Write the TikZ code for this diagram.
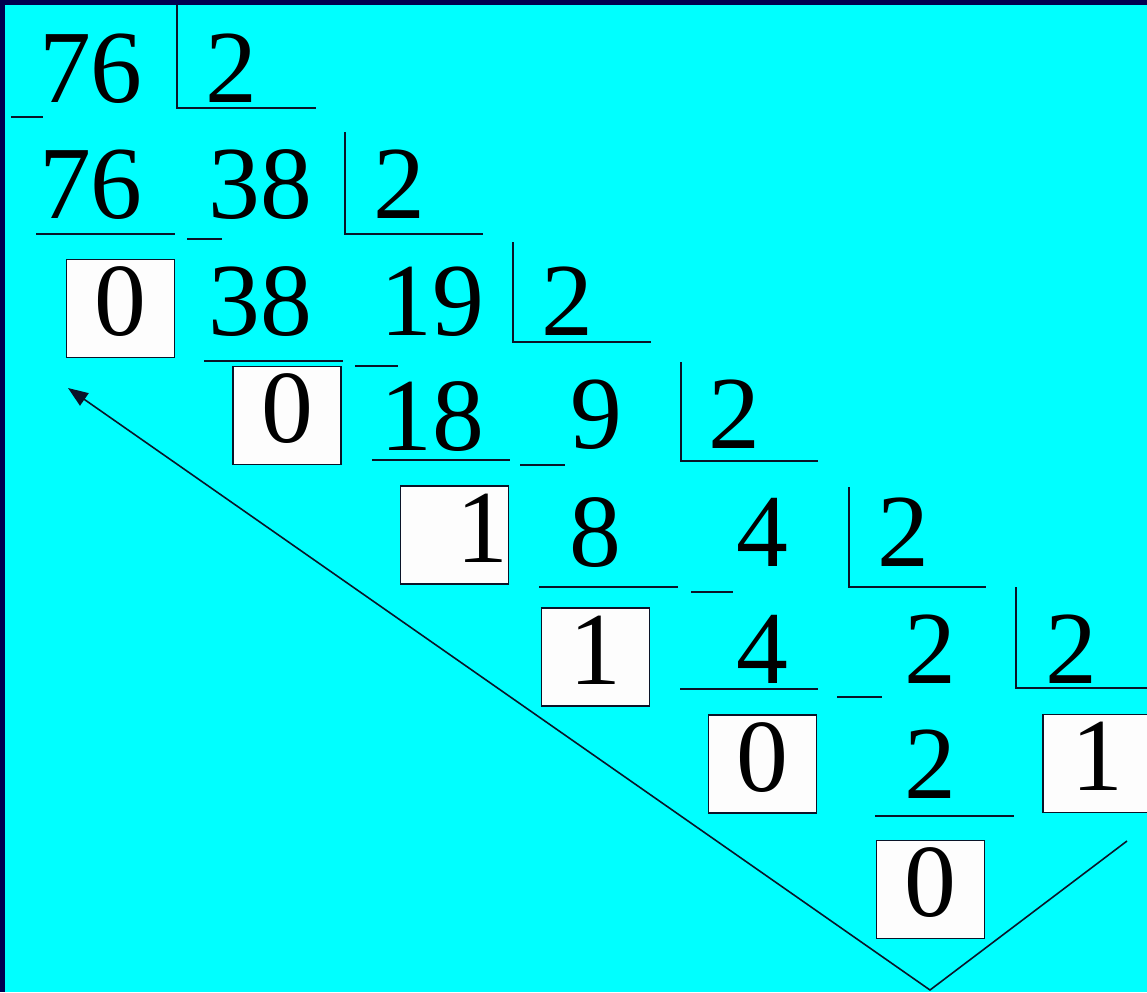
\documentclass[tikz,border=0pt]{standalone}
\usepackage{fontspec}
\setmainfont{Liberation Serif}
\usetikzlibrary{arrows.meta}
\definecolor{bg}{RGB}{0,255,255}
\definecolor{navy}{RGB}{0,0,80}
\definecolor{ink}{RGB}{10,20,40}
\definecolor{boxfill}{RGB}{253,253,253}
\begin{document}
\begin{tikzpicture}[x=0.02cm,y=-0.02cm,
  num/.style={inner sep=0pt,anchor=base,font=\fontsize{59pt}{60pt}\selectfont,text=black},
  rem/.style={draw=ink,line width=1.1pt,fill=boxfill,inner sep=0pt,
    minimum width=2.16cm,minimum height=1.96cm,text height=1.4cm,text depth=0.32cm,
    font=\fontsize{59pt}{60pt}\selectfont,text=black},
  rule/.style={draw=ink,line width=1.1pt},
  arr/.style={draw=ink,line width=0.9pt}]
\useasboundingbox (0,0) rectangle (1147,992);
\fill[bg] (0,0) rectangle (1147,992);
\fill[navy] (0,0) rectangle (1147,5);
\fill[navy] (0,0) rectangle (5,992);

% numbers
\node[num] (a0) at (91,102) {76};
\node[num] (d0) at (231,102) {2};
\node[num] (p1) at (91,218) {76};
\node[num] (a1) at (260,218) {38};
\node[num] (d1) at (399,218) {2};
\node[num] (p2) at (260,335) {38};
\node[num] (a2) at (432,335) {19};
\node[num] (d2) at (567,335) {2};
\node[num] (p3) at (432,450) {18};
\node[num] (a3) at (596,448) {9};
\node[num] (d3) at (734,448) {2};
\node[num] (p4) at (595,566) {8};
\node[num] (a4) at (762,566) {4};
\node[num] (d4) at (903,566) {2};
\node[num] (p5) at (762,683) {4};
\node[num] (a5) at (930,683) {2};
\node[num] (d5) at (1071,683) {2};
\node[num] (p6) at (930,798) {2};

% remainders
\node[rem] (r2) at (120.5,308.5) {0};
\node[rem] (r3) at (287,415.5) {0};
\node[rem] (r4) at (454.5,535) {\makebox[2.16cm][r]{1}};
\node[rem] (r5) at (595.5,657) {1};
\node[rem] (r6) at (762.5,764) {0};
\node[rem] (q6) at (1097,763.5) {1};
\node[rem] (r7) at (930.5,889.5) {0};

% division brackets
\draw[rule] (177,5) -- (177,108) -- (316,108);
\draw[rule] (345,132) -- (345,234) -- (483,234);
\draw[rule] (513,242) -- (513,342) -- (651,342);
\draw[rule] (681,362) -- (681,461) -- (818,461);
\draw[rule] (849,487) -- (849,587) -- (986,587);
\draw[rule] (1016,587) -- (1016,688) -- (1147,688);

% product underlines
\draw[rule] (36,234) -- (175,234);
\draw[rule] (204,361) -- (343,361);
\draw[rule] (372,460) -- (510,460);
\draw[rule] (539,587) -- (678,587);
\draw[rule] (680,689) -- (818,689);
\draw[rule] (875,816) -- (1014,816);

% minus signs
\draw[rule] (11,117) -- (43,117);
\draw[rule] (187,239) -- (222,239);
\draw[rule] (355,366) -- (398,366);
\draw[rule] (520,465) -- (565,465);
\draw[rule] (691,592) -- (733,592);
\draw[rule] (837,697) -- (882,697);

% reading arrow
\coordinate (vR) at (1127,841);
\coordinate (vB) at (930,990);
\coordinate (vT) at (68,388);
\draw[arr,-{Triangle[length=0.4cm,width=0.3cm]}] (vR) -- (vB) -- (vT);
\end{tikzpicture}
\end{document}
